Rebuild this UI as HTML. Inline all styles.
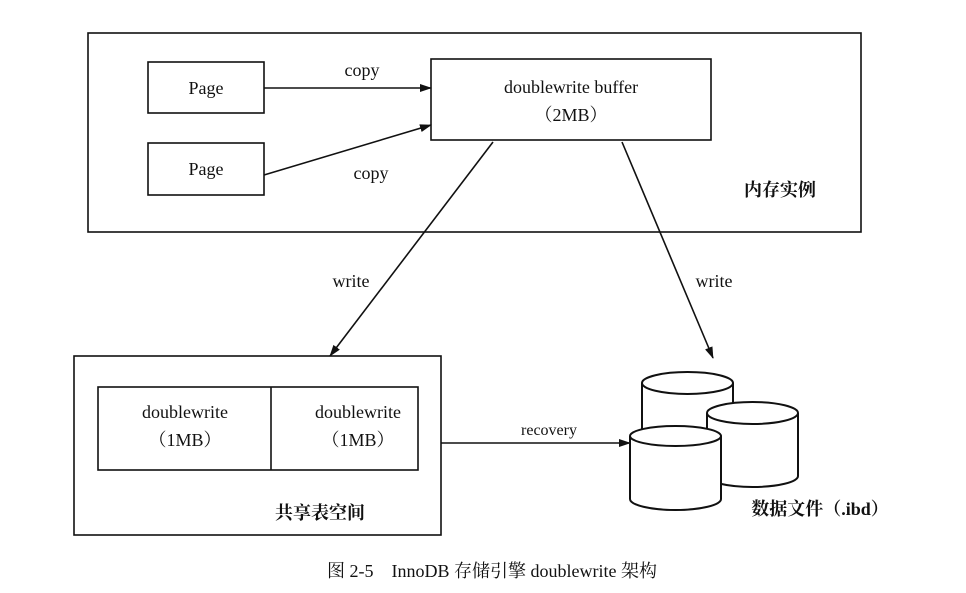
<html><head><style>body{margin:0;background:#fff}</style></head><body>
<svg width="966" height="593" xmlns="http://www.w3.org/2000/svg" font-family="Liberation Serif, Noto Serif CJK SC, serif" fill="none" stroke="#111" stroke-width="1.6">
<defs><marker id="a" markerWidth="12" markerHeight="8" refX="11" refY="4" orient="auto" markerUnits="userSpaceOnUse"><path d="M0,0 L12,4 L0,8 Z" fill="#111" stroke="none"/></marker></defs>
<rect x="88" y="33" width="773" height="199"/>
<rect x="148" y="62" width="116" height="51"/>
<rect x="148" y="143" width="116" height="52"/>
<rect x="431" y="59" width="280" height="81"/>
<rect x="74" y="356" width="367" height="179"/>
<rect x="98" y="387" width="320" height="83"/>
<line x1="271" y1="387" x2="271" y2="470"/>
<line x1="264" y1="88" x2="431" y2="88" marker-end="url(#a)"/>
<line x1="264" y1="175" x2="431" y2="125" marker-end="url(#a)"/>
<line x1="493" y1="142" x2="330" y2="356" marker-end="url(#a)"/>
<line x1="622" y1="142" x2="713" y2="358" marker-end="url(#a)"/>
<line x1="441" y1="443" x2="630" y2="443" marker-end="url(#a)"/>
<g fill="#fff" stroke-width="2">
<path d="M642,383 V470 H733 V383"/><ellipse cx="687.5" cy="383" rx="45.5" ry="11"/>
<path d="M707,413 V476 A45.5,11 0 0 0 798,476 V413"/><ellipse cx="752.5" cy="413" rx="45.5" ry="11"/>
<path d="M630,436 V499 A45.5,11 0 0 0 721,499 V436"/><ellipse cx="675.5" cy="436" rx="45.5" ry="10"/>
</g>
<g fill="#111" stroke="none" font-size="18" text-anchor="middle">
<text x="206" y="94">Page</text>
<text x="206" y="175">Page</text>
<text x="362" y="76">copy</text>
<text x="371" y="179">copy</text>
<text x="571" y="93">doublewrite buffer</text>
<text x="571" y="121">（2MB）</text>
<text x="780" y="196" font-weight="bold">内存实例</text>
<text x="351" y="287">write</text>
<text x="714" y="287">write</text>
<text x="185" y="418">doublewrite</text>
<text x="185" y="446">（1MB）</text>
<text x="358" y="418">doublewrite</text>
<text x="358" y="446">（1MB）</text>
<text x="549" y="435" font-size="16">recovery</text>
<text x="320" y="519" font-weight="bold">共享表空间</text>
<text x="820" y="515" font-weight="bold">数据文件（.ibd）</text>
<text x="492" y="577">图 2-5　InnoDB 存储引擎 doublewrite 架构</text>
</g>
</svg></body></html>
